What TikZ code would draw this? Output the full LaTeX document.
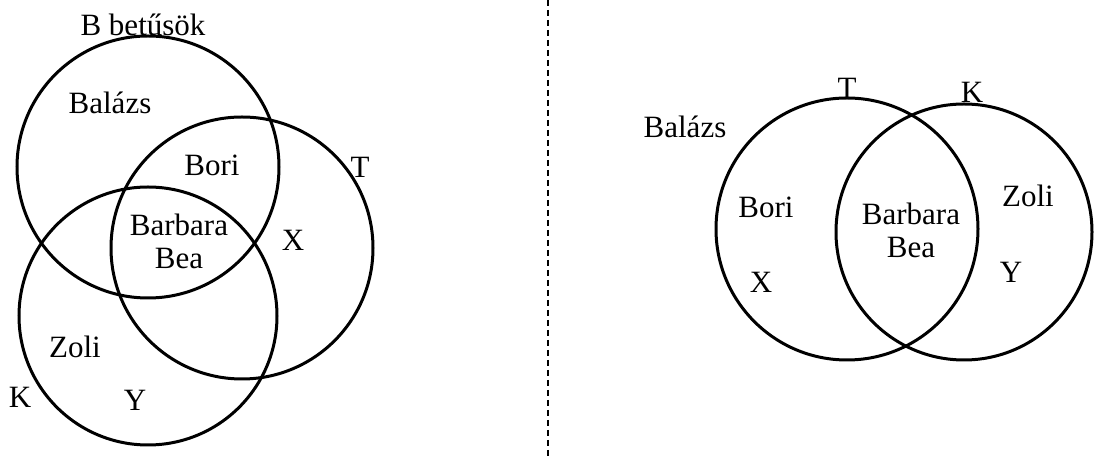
\documentclass[tikz,border=0pt]{standalone}
\usepackage{fontspec}
\setmainfont{Liberation Serif}
\usepackage{tikz}
\usetikzlibrary{positioning}

\begin{document}
\begin{tikzpicture}[
    x=0.5pt, y=-0.5pt,
    venn/.style={circle, draw=black, line width=1.5pt, minimum size=#1, inner sep=0pt},
    lbl/.style={inner sep=0pt, font=\fontsize{15.5}{18.5}\selectfont, align=center}
]
\useasboundingbox (0,0) rectangle (1094,459);

% Left diagram: three sets
\node[venn=131pt] (bset) at (148,167) {};
\node[venn=131pt] (tset) at (242,248) {};
\node[venn=129pt] (kset) at (148,316) {};

\node[lbl] (btitle) at (143,25) {B betűsök};
\node[lbl] (balazs) at (110,103) {Balázs};
\node[lbl] (bori) at (212,165) {Bori};
\node[lbl] (barbara) at (179,241) {Barbara\\[-2pt]Bea};
\node[lbl] (tname) at (360,167) {T};
\node[lbl] (xname) at (293,240) {X};
\node[lbl] (zoli) at (75,347) {Zoli};
\node[lbl] (kname) at (20,397) {K};
\node[lbl] (yname) at (135,400) {Y};

% Separator
\coordinate (septop) at (548,0);
\coordinate (sepbot) at (548,459);
\draw[line width=0.75pt, dash pattern=on 3pt off 2pt] (septop) -- (sepbot);

% Right diagram: two sets
\node[venn=131pt] (tset2) at (847,229) {};
\node[venn=128pt] (kset2) at (964,232) {};

\node[lbl] (tname2) at (847,88) {T};
\node[lbl] (kname2) at (972,92) {K};
\node[lbl] (balazs2) at (685,127) {Balázs};
\node[lbl] (bori2) at (766,207) {Bori};
\node[lbl] (xname2) at (761,282) {X};
\node[lbl] (barbara2) at (911,230) {Barbara\\[-2pt]Bea};
\node[lbl] (zoli2) at (1028,196) {Zoli};
\node[lbl] (yname2) at (1011,272) {Y};

\end{tikzpicture}
\end{document}
